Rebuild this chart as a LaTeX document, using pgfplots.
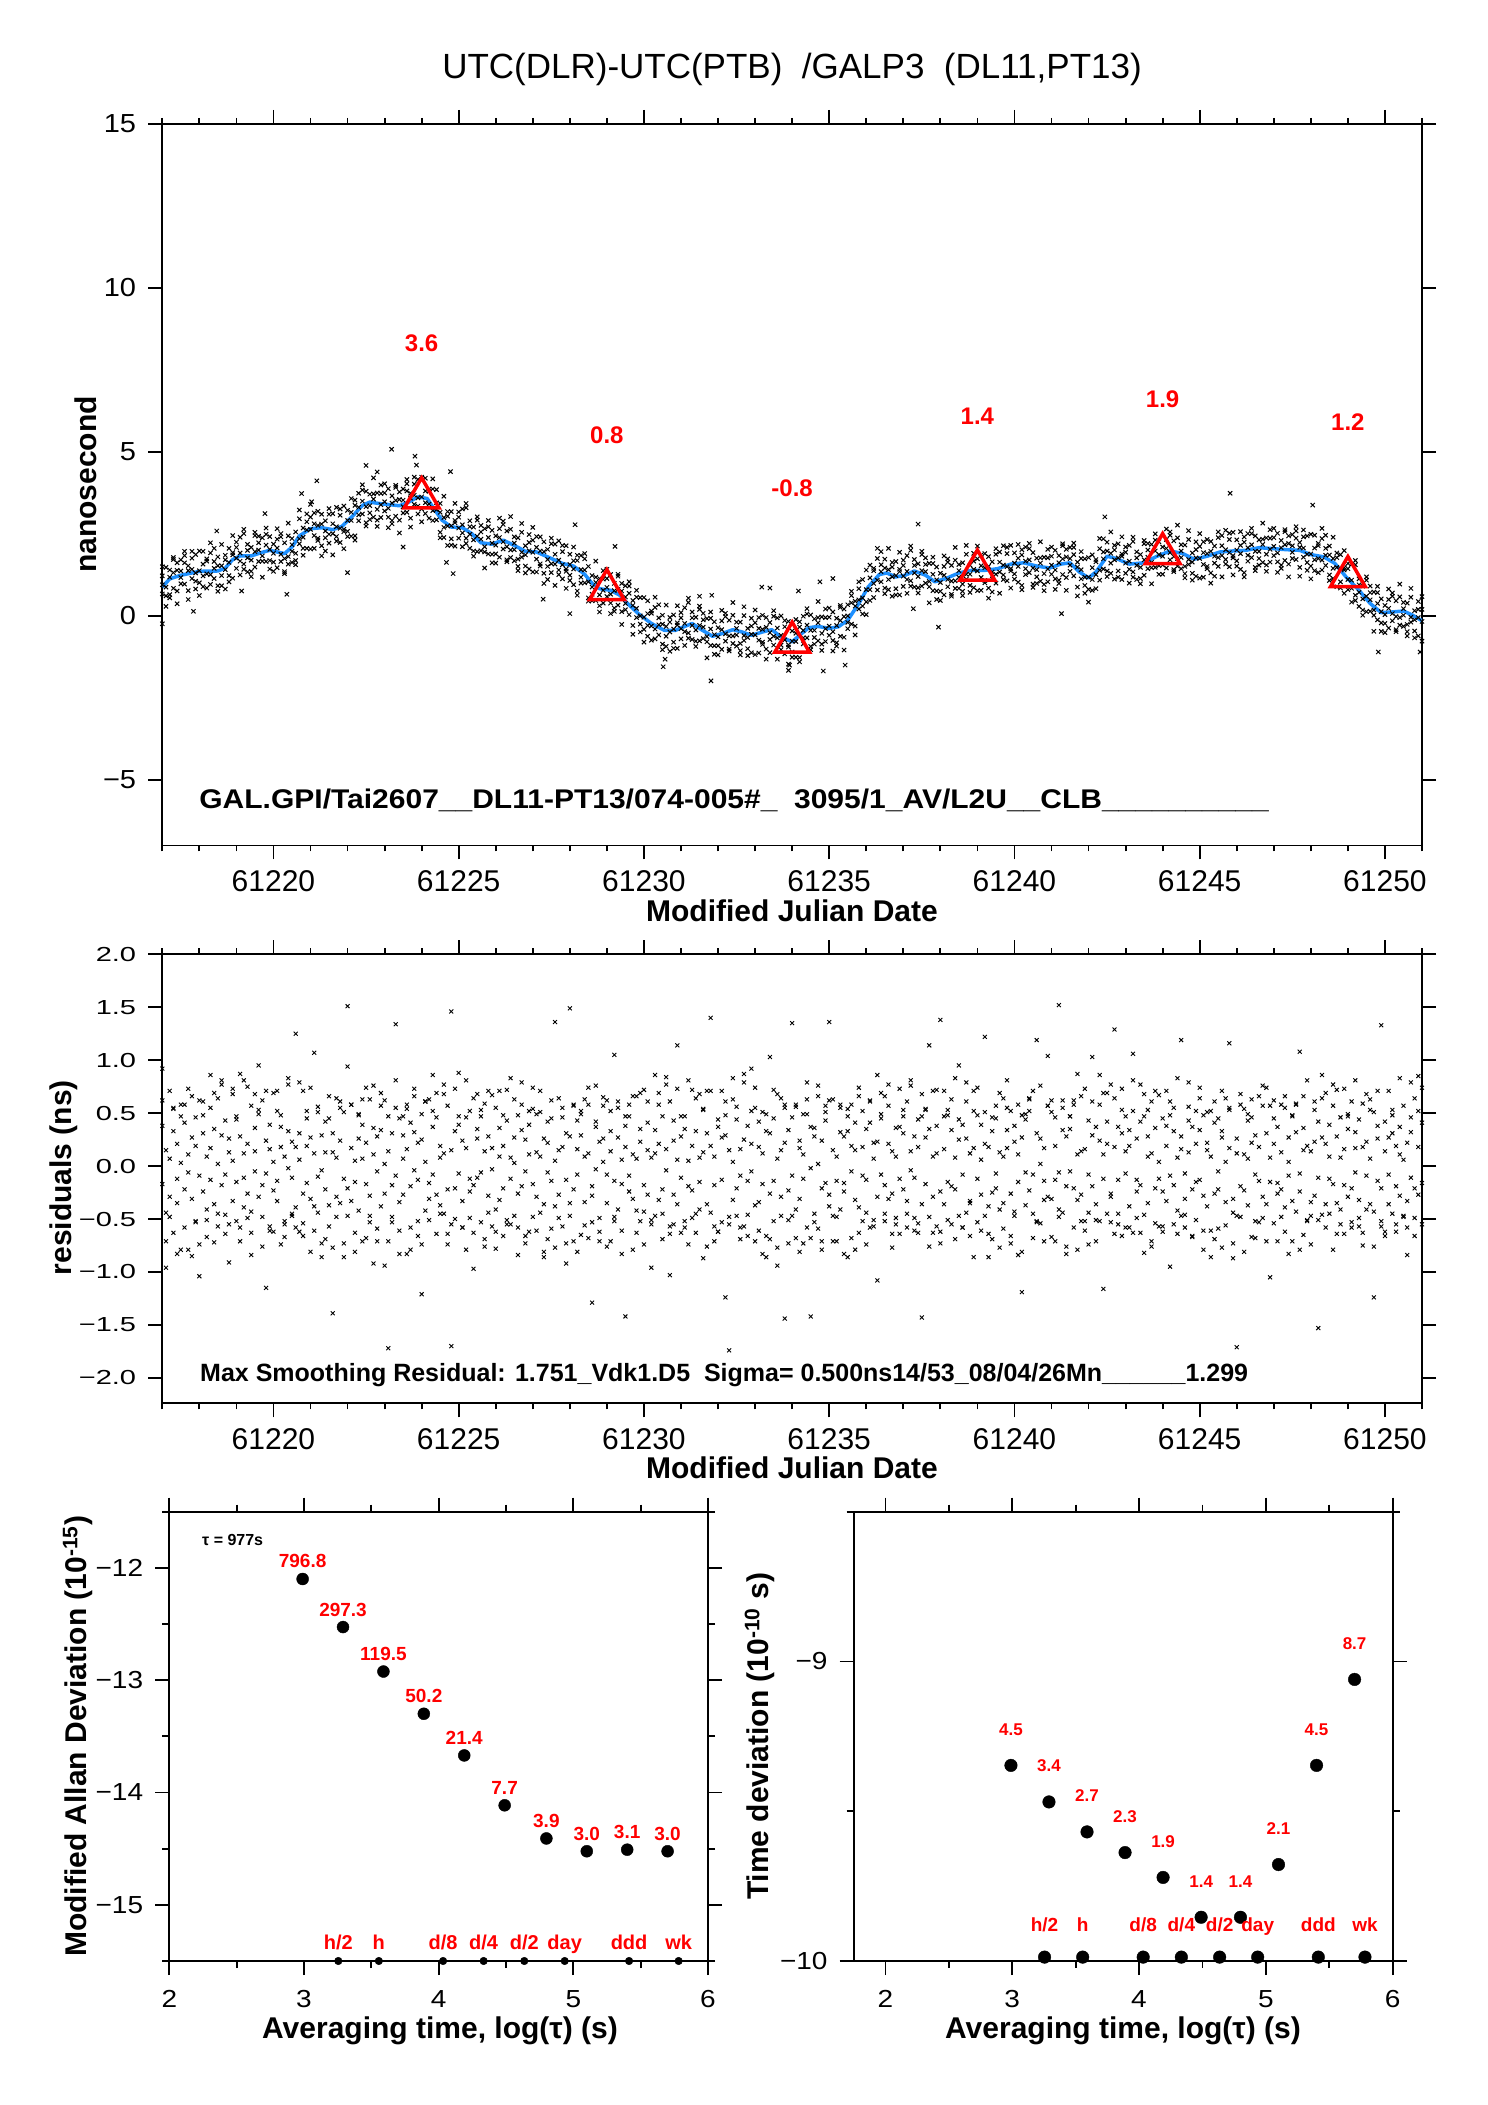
\documentclass[border=0pt]{standalone}
\usepackage{fontspec}
\setmainfont{Liberation Sans}
\usepackage{graphicx}
\usepackage{pgfplots}
\pgfplotsset{compat=1.18}
\usepackage{pgfplotstable}
\definecolor{lineblue}{RGB}{30,144,255}
\definecolor{annred}{RGB}{255,0,0}
\newcommand{\sqz}[2]{\scalebox{1}[#1]{#2}}

% x = days after MJD 61217
\pgfplotstableread{
x a b c d
0.0 0.67 1.22 0.95 1.50
0.1 1.48 0.88 0.61 0.29
0.2 1.18 1.40 0.55 0.65
0.3 0.84 1.78 1.32 1.72
0.4 1.39 0.76 1.62 0.37
0.5 1.17 1.37 0.98 1.71
0.6 1.62 0.97 1.97 1.84
0.7 0.77 1.38 1.53 0.50
0.8 1.42 1.76 1.14 1.97
0.9 1.06 1.31 1.87 0.82
1.0 1.98 1.01 1.38 0.62
1.1 1.22 1.58 0.89 1.97
1.2 1.67 1.28 1.74 0.85
1.3 0.96 1.92 1.26 2.23
1.4 1.45 1.14 1.66 2.06
1.5 1.80 1.53 0.75 0.92
1.6 1.23 0.92 1.53 2.18
1.7 1.71 1.85 1.41 0.82
1.8 1.23 1.63 2.06 1.04
1.9 1.86 1.15 1.93 2.45
2.0 1.76 2.09 1.45 2.25
2.1 2.40 1.67 1.92 1.25
2.2 1.58 2.51 1.42 2.64
2.3 2.00 1.77 2.18 1.34
2.4 1.36 2.09 1.70 1.20
2.5 1.96 1.49 2.45 2.55
2.6 2.23 2.01 1.66 2.43
2.7 1.83 1.67 2.38 1.18
2.8 2.49 2.16 1.66 2.68
2.9 1.69 2.42 2.03 1.43
3.0 2.19 1.64 1.91 1.36
3.1 1.47 2.07 2.34 2.66
3.2 1.88 1.66 2.51 2.41
3.3 2.23 1.29 1.75 1.35
3.4 1.81 2.44 1.58 2.83
3.5 2.17 1.97 2.36 1.63
3.6 1.91 2.56 1.56 1.69
3.7 2.96 2.35 2.20 3.23
3.8 2.40 2.06 2.68 1.85
3.9 2.87 2.62 2.06 3.11
4.0 2.04 3.01 2.64 3.40
4.1 2.81 2.45 3.14 2.06
4.2 2.37 2.76 2.30 3.19
4.3 3.10 2.14 2.80 1.83
4.4 2.59 2.90 2.38 1.98
4.5 2.22 2.49 3.27 3.10
4.6 2.81 3.12 2.51 1.86
4.7 2.42 2.28 2.72 3.31
4.8 3.07 2.67 2.24 3.26
4.9 2.64 3.35 2.57 2.05
5.0 2.91 2.58 3.22 2.42
5.1 2.43 3.16 2.91 3.58
5.2 3.37 2.44 3.53 2.31
5.3 3.08 3.31 2.90 3.74
5.4 3.84 3.11 3.50 4.00
5.5 3.33 3.80 2.84 2.74
5.6 3.14 3.36 3.71 2.94
5.7 3.56 3.72 3.01 4.21
5.8 2.92 3.25 3.75 2.73
5.9 3.73 3.00 3.39 3.99
6.0 3.20 3.75 3.48 4.03
6.1 3.88 3.28 3.01 2.69
6.2 3.44 3.66 2.81 2.91
6.3 3.04 3.98 3.52 3.92
6.4 3.55 2.92 3.78 2.53
6.5 3.33 3.53 3.14 3.87
6.6 3.81 3.16 4.16 4.03
6.7 2.98 3.59 3.74 2.71
6.8 3.68 4.02 3.40 4.23
6.9 3.35 3.60 4.16 3.11
7.0 4.23 3.26 3.63 2.87
7.1 3.45 3.81 3.12 4.20
7.2 3.80 3.41 3.87 2.98
7.3 2.91 3.87 3.21 4.18
7.4 3.24 2.93 3.45 3.85
7.5 3.43 3.16 2.38 2.55
7.6 2.70 2.39 3.00 3.65
7.7 3.04 3.18 2.74 2.15
7.8 2.35 2.75 3.18 2.16
7.9 2.84 2.13 2.91 3.43
8.0 2.68 3.01 2.37 3.17
8.1 3.26 2.53 2.78 2.11
8.2 2.37 3.30 2.21 3.43
8.3 2.72 2.49 2.90 2.06
8.4 1.98 2.71 2.32 1.82
8.5 2.43 1.96 2.92 3.02
8.6 2.56 2.34 1.99 2.76
8.7 2.11 1.95 2.66 1.46
8.8 2.72 2.39 1.89 2.91
8.9 1.88 2.61 2.22 1.62
9.0 2.44 1.89 2.16 1.61
9.1 1.79 2.39 2.66 2.98
9.2 2.26 2.04 2.89 2.79
9.3 2.59 1.65 2.11 1.71
9.4 2.01 2.64 1.78 3.03
9.5 2.22 2.02 2.41 1.68
9.6 1.73 2.38 1.38 1.51
9.7 2.55 1.94 1.79 2.82
9.8 1.86 1.52 2.14 1.31
9.9 2.24 1.99 1.43 2.48
10.0 1.34 2.31 1.94 2.70
10.1 2.09 1.73 2.42 1.34
10.2 1.59 1.98 1.52 2.41
10.3 2.26 1.30 1.96 0.99
10.4 1.72 2.03 1.51 1.11
10.5 1.32 1.59 2.37 2.20
10.6 1.88 2.19 1.58 0.93
10.7 1.40 1.26 1.70 2.29
10.8 1.96 1.56 1.13 2.15
10.9 1.43 2.14 1.36 0.84
11.0 1.57 1.24 1.88 1.08
11.1 0.95 1.68 1.43 2.10
11.2 1.69 0.76 1.85 0.63
11.3 1.18 1.41 1.00 1.84
11.4 1.74 1.01 1.40 1.90
11.5 1.04 1.51 0.55 0.45
11.6 0.66 0.88 1.23 0.46
11.7 1.02 1.18 0.47 1.67
11.8 0.31 0.64 1.14 0.12
11.9 1.12 0.39 0.78 1.38
12.0 0.59 1.14 0.87 1.42
12.1 1.26 0.66 0.39 0.07
12.2 0.77 0.99 0.14 0.24
12.3 0.33 1.27 0.81 1.21
12.4 0.76 0.13 0.99 -0.26
12.5 0.38 0.58 0.19 0.92
12.6 0.69 0.04 1.04 0.91
12.7 -0.29 0.32 0.47 -0.56
12.8 0.23 0.57 -0.05 0.78
12.9 -0.25 0.00 0.56 -0.49
13.0 0.56 -0.41 -0.04 -0.80
13.1 -0.29 0.07 -0.62 0.46
13.2 0.08 -0.31 0.15 -0.74
13.3 -0.70 0.26 -0.40 0.57
13.4 -0.27 -0.58 -0.06 0.34
13.5 0.02 -0.25 -1.03 -0.86
13.6 -0.62 -0.93 -0.32 0.33
13.7 -0.19 -0.05 -0.49 -1.08
13.8 -0.80 -0.40 0.03 -0.99
13.9 -0.28 -0.99 -0.21 0.31
14.0 -0.39 -0.06 -0.70 0.10
14.1 0.25 -0.48 -0.23 -0.90
14.2 -0.52 0.41 -0.68 0.54
14.3 -0.06 -0.29 0.12 -0.72
14.4 -0.77 -0.04 -0.43 -0.93
14.5 -0.29 -0.76 0.20 0.30
14.6 -0.12 -0.34 -0.69 0.08
14.7 -0.63 -0.79 -0.08 -1.28
14.8 -0.07 -0.40 -0.90 0.12
14.9 -0.91 -0.18 -0.57 -1.17
15.0 -0.36 -0.91 -0.64 -1.19
15.1 -1.02 -0.42 -0.15 0.17
15.2 -0.55 -0.77 0.08 -0.02
15.3 -0.13 -1.07 -0.61 -1.01
15.4 -0.61 0.02 -0.84 0.41
15.5 -0.38 -0.58 -0.19 -0.92
15.6 -0.84 -0.19 -1.19 -1.06
15.7 0.01 -0.60 -0.75 0.28
15.8 -0.66 -1.00 -0.38 -1.21
15.9 -0.31 -0.56 -1.12 -0.07
16.0 -1.18 -0.21 -0.58 0.18
16.1 -0.38 -0.74 -0.05 -1.13
16.2 -0.80 -0.41 -0.87 0.02
16.3 -0.05 -1.01 -0.35 -1.32
16.4 -0.51 -0.20 -0.72 -1.12
16.5 -0.89 -0.62 0.16 -0.01
16.6 -0.37 -0.06 -0.67 -1.32
16.7 -0.89 -1.03 -0.59 0.00
16.8 -0.33 -0.73 -1.16 -0.14
16.9 -0.88 -0.17 -0.95 -1.47
17.0 -0.77 -1.10 -0.46 -1.26
17.1 -1.26 -0.53 -0.78 -0.11
17.2 -0.34 -1.27 -0.18 -1.40
17.3 -0.67 -0.44 -0.85 -0.01
17.4 0.06 -0.67 -0.28 0.22
17.5 -0.44 0.03 -0.93 -1.03
17.6 -0.66 -0.44 -0.09 -0.86
17.7 -0.21 -0.05 -0.76 0.44
17.8 -0.86 -0.53 -0.03 -1.05
17.9 -0.05 -0.78 -0.39 0.21
18.0 -0.59 -0.04 -0.31 0.24
18.1 0.12 -0.48 -0.75 -1.07
18.2 -0.29 -0.07 -0.92 -0.82
18.3 -0.62 0.32 -0.14 0.26
18.4 -0.02 -0.65 0.21 -1.04
18.5 -0.20 0.00 -0.39 0.34
18.6 0.40 -0.25 0.75 0.62
18.7 -0.31 0.30 0.45 -0.58
18.8 0.49 0.83 0.21 1.04
18.9 0.30 0.55 1.11 0.06
19.0 1.40 0.43 0.80 0.04
19.1 0.80 1.16 0.47 1.55
19.2 1.38 0.99 1.45 0.56
19.3 0.79 1.75 1.09 2.06
19.4 1.35 1.04 1.56 1.96
19.5 1.73 1.46 0.68 0.85
19.6 1.11 0.80 1.41 2.06
19.7 1.49 1.63 1.19 0.60
19.8 0.83 1.23 1.66 0.64
19.9 1.35 0.64 1.42 1.94
20.0 1.21 1.54 0.90 1.70
20.1 1.84 1.11 1.36 0.69
20.2 1.07 2.00 0.91 2.13
20.3 1.54 1.31 1.72 0.88
20.4 0.86 1.59 1.20 0.70
20.5 1.38 0.91 1.87 1.97
20.6 1.57 1.35 1.00 1.77
20.7 1.05 0.89 1.60 0.40
20.8 1.60 1.27 0.77 1.79
20.9 0.76 1.49 1.10 0.50
21.0 1.30 0.75 1.02 0.47
21.1 0.64 1.24 1.51 1.83
21.2 1.11 0.89 1.74 1.64
21.3 1.54 0.60 1.06 0.66
21.4 1.07 1.70 0.84 2.09
21.5 1.38 1.18 1.57 0.84
21.6 0.97 1.62 0.62 0.75
21.7 1.88 1.27 1.12 2.15
21.8 1.27 0.93 1.55 0.72
21.9 1.67 1.42 0.86 1.91
22.0 0.77 1.74 1.37 2.13
22.1 1.53 1.17 1.86 0.78
22.2 1.08 1.47 1.01 1.90
22.3 1.81 0.85 1.51 0.54
22.4 1.34 1.65 1.13 0.73
22.5 1.00 1.27 2.05 1.88
22.6 1.64 1.95 1.34 0.69
22.7 1.25 1.11 1.55 2.14
22.8 1.90 1.50 1.07 2.09
22.9 1.44 2.15 1.37 0.85
23.0 1.61 1.28 1.92 1.12
23.1 1.03 1.76 1.51 2.18
23.2 1.86 0.93 2.02 0.80
23.3 1.44 1.67 1.26 2.10
23.4 2.05 1.32 1.71 2.21
23.5 1.46 1.93 0.97 0.87
23.6 1.19 1.41 1.76 0.99
23.7 1.61 1.77 1.06 2.26
23.8 0.96 1.29 1.79 0.77
23.9 1.77 1.04 1.43 2.03
24.0 1.27 1.82 1.55 2.10
24.1 2.00 1.40 1.13 0.81
24.2 1.62 1.84 0.99 1.09
24.3 1.26 2.20 1.74 2.14
24.4 1.80 1.17 2.03 0.78
24.5 1.55 1.75 1.36 2.09
24.6 1.87 1.22 2.22 2.09
24.7 0.88 1.49 1.64 0.61
24.8 1.41 1.75 1.13 1.96
24.9 0.93 1.18 1.74 0.69
25.0 1.78 0.81 1.18 0.42
25.1 1.11 1.47 0.78 1.86
25.2 1.65 1.26 1.72 0.83
25.3 1.09 2.05 1.39 2.36
25.4 1.74 1.43 1.95 2.35
25.5 2.25 1.98 1.20 1.37
25.6 1.61 1.30 1.91 2.56
25.7 2.01 2.15 1.71 1.12
25.8 1.37 1.77 2.20 1.18
25.9 1.82 1.11 1.89 2.41
26.0 1.61 1.94 1.30 2.10
26.1 2.15 1.42 1.67 1.00
26.2 1.34 2.27 1.18 2.40
26.3 1.77 1.54 1.95 1.11
26.4 1.14 1.87 1.48 0.98
26.5 1.71 1.24 2.20 2.30
26.6 2.01 1.79 1.44 2.21
26.7 1.63 1.47 2.18 0.98
26.8 2.31 1.98 1.48 2.50
26.9 1.53 2.26 1.87 1.27
27.0 2.10 1.55 1.82 1.27
27.1 1.46 2.06 2.33 2.65
27.2 1.93 1.71 2.56 2.46
27.3 2.29 1.35 1.81 1.41
27.4 1.75 2.38 1.52 2.77
27.5 1.98 1.78 2.17 1.44
27.6 1.51 2.16 1.16 1.29
27.7 2.33 1.72 1.57 2.60
27.8 1.64 1.30 1.92 1.09
27.9 2.02 1.77 1.21 2.26
28.0 1.15 2.12 1.75 2.51
28.1 1.93 1.57 2.26 1.18
28.2 1.51 1.90 1.44 2.33
28.3 2.27 1.31 1.97 1.00
28.4 1.82 2.13 1.61 1.21
28.5 1.51 1.78 2.56 2.39
28.6 2.14 2.45 1.84 1.19
28.7 1.72 1.58 2.02 2.61
28.8 2.33 1.93 1.50 2.52
28.9 1.84 2.55 1.77 1.25
29.0 2.01 1.68 2.32 1.52
29.1 1.42 2.15 1.90 2.57
29.2 2.25 1.32 2.41 1.19
29.3 1.85 2.08 1.67 2.51
29.4 2.51 1.78 2.17 2.67
29.5 1.97 2.44 1.48 1.38
29.6 1.75 1.97 2.32 1.55
29.7 2.18 2.34 1.63 2.83
29.8 1.55 1.88 2.38 1.36
29.9 2.37 1.64 2.03 2.63
30.0 1.84 2.39 2.12 2.67
30.1 2.52 1.92 1.65 1.33
30.2 2.08 2.30 1.45 1.55
30.3 1.69 2.63 2.17 2.57
30.4 2.21 1.58 2.44 1.19
30.5 1.94 2.14 1.75 2.48
30.6 2.37 1.72 2.72 2.59
30.7 1.48 2.09 2.24 1.21
30.8 2.07 2.41 1.79 2.62
30.9 1.63 1.88 2.44 1.39
31.0 2.49 1.52 1.89 1.13
31.1 1.71 2.07 1.38 2.46
31.2 2.14 1.75 2.21 1.32
31.3 1.40 2.36 1.70 2.67
31.4 1.85 1.54 2.06 2.46
31.5 2.13 1.86 1.08 1.25
31.6 1.45 1.14 1.75 2.40
31.7 1.78 1.92 1.48 0.89
31.8 1.04 1.44 1.87 0.85
31.9 1.40 0.69 1.47 1.99
32.0 1.11 1.44 0.80 1.60
32.1 1.57 0.84 1.09 0.42
32.2 0.63 1.56 0.47 1.69
32.3 0.95 0.72 1.13 0.29
32.4 0.18 0.91 0.52 0.02
32.5 0.60 0.13 1.09 1.19
32.6 0.71 0.49 0.14 0.91
32.7 0.18 0.02 0.73 -0.47
32.8 0.71 0.38 -0.12 0.90
32.9 -0.21 0.52 0.13 -0.47
33.0 0.32 -0.23 0.04 -0.51
33.1 -0.37 0.23 0.50 0.82
33.2 0.07 -0.15 0.70 0.60
33.3 0.46 -0.48 -0.02 -0.42
33.4 -0.05 0.58 -0.28 0.97
33.5 0.22 0.02 0.41 -0.32
33.6 -0.26 0.39 -0.61 -0.48
33.7 0.57 -0.04 -0.19 0.84
33.8 -0.12 -0.46 0.16 -0.67
33.9 0.20 -0.05 -0.61 0.44
34.0 -0.77 0.20 -0.17 0.59
}\topdata

\pgfplotstableread{
x y
0.00 -0.24
0.84 0.14
1.47 2.59
2.14 0.76
2.77 3.12
3.36 0.66
3.76 3.73
4.03 3.48
4.17 4.12
5.00 1.32
5.50 4.59
5.80 4.39
6.19 5.08
6.50 2.10
6.82 4.87
6.86 4.60
7.78 4.40
7.67 1.63
7.85 1.29
10.28 0.51
11.00 0.07
11.14 2.78
12.22 2.12
13.52 -1.55
13.57 -1.32
14.81 -1.98
14.50 0.60
14.83 0.63
16.18 0.88
16.40 0.85
16.90 -1.66
16.93 -1.50
17.17 0.76
17.84 -1.68
18.10 1.14
17.75 1.04
18.43 -1.50
20.40 2.80
20.27 0.22
20.95 -0.34
24.27 0.07
25.44 3.02
28.82 3.74
31.05 3.38
32.82 -1.10
33.95 -1.10
}\topout

\pgfplotstableread{
x a b c d
0.0 0.38 -0.17 0.92 0.62
0.1 -0.44 0.15 -0.96 -0.71
0.2 0.07 0.71 -0.29 -0.48
0.3 -0.63 0.33 0.54 0.55
0.4 0.21 -0.35 -0.12 -0.83
0.5 0.58 -0.79 0.03 0.47
0.6 -0.22 0.41 -0.58 0.58
0.7 0.11 -0.06 0.73 -0.79
0.8 -0.85 0.27 -0.31 0.66
0.9 0.46 -0.53 0.19 -0.52
1.0 -0.09 0.62 -1.04 -0.74
1.1 0.31 -0.24 0.48 0.61
1.2 -0.67 0.09 -0.41 -0.51
1.3 0.17 0.55 -0.13 0.86
1.4 -0.36 -0.72 0.35 0.69
1.5 0.64 0.02 -0.57 -0.45
1.6 -0.18 0.29 0.81 0.77
1.7 0.43 -0.46 -0.08 -0.64
1.8 -0.91 0.13 0.26 -0.55
1.9 0.05 0.68 -0.33 0.73
2.0 -0.52 -0.15 0.44 0.47
2.1 0.28 0.87 -0.71 -0.58
2.2 -0.11 -0.39 0.12 0.81
2.3 0.75 0.21 -0.26 -0.49
2.4 -0.43 -0.84 0.57 -0.63
2.5 0.14 0.36 -0.05 0.68
2.6 -0.29 0.49 0.95 0.53
2.7 0.62 -0.18 -0.48 -0.76
2.8 -0.07 0.24 -1.15 0.71
2.9 0.39 -0.61 0.16 -0.57
3.0 -0.23 0.04 0.69 -0.62
3.1 0.52 -0.33 -0.14 0.71
3.2 -0.74 0.18 0.37 0.48
3.3 0.09 -0.52 -0.67 -0.55
3.4 0.33 0.77 -0.02 0.83
3.5 -0.45 -0.11 0.23 -0.47
3.6 0.18 1.25 -0.39 -0.58
3.7 -0.62 0.31 0.06 0.79
3.8 0.71 -0.26 -0.54 -0.66
3.9 -0.16 0.45 0.19 0.52
4.0 0.27 -0.81 -0.31 0.74
4.1 -0.38 0.12 1.07 -0.61
4.2 0.56 -0.44 -0.10 0.51
4.3 -0.04 0.29 -0.73 -0.86
4.4 0.42 -0.22 0.13 -0.69
4.5 -0.57 0.66 -0.37 0.45
4.6 0.13 -1.39 0.31 -0.77
4.7 -0.29 0.08 -0.48 0.64
4.8 0.61 -0.35 0.24 0.55
4.9 -0.12 0.51 -0.86 -0.73
5.0 0.94 1.51 -0.21 -0.47
5.1 -0.33 0.17 0.58 0.58
5.2 0.05 -0.63 -0.15 -0.81
5.3 0.48 0.26 -0.42 0.49
5.4 -0.71 0.39 0.07 0.63
5.5 0.22 -0.17 0.74 -0.68
5.6 -0.47 0.63 -0.28 -0.53
5.7 0.36 -0.92 0.11 0.76
5.8 -0.05 0.28 -0.59 -0.71
5.9 0.69 -0.38 0.34 0.57
6.0 -0.26 0.02 -0.94 0.62
6.1 0.14 -1.72 0.47 -0.71
6.2 -0.53 0.31 -0.18 -0.48
6.3 0.81 -0.09 1.34 0.55
6.4 -0.34 0.45 -0.61 -0.83
6.5 0.07 -0.27 0.29 0.47
6.6 0.54 0.16 -0.83 0.58
6.7 -0.19 -0.58 0.41 -0.79
6.8 0.32 0.73 -0.04 0.66
6.9 -0.66 -0.13 0.22 -0.52
7.0 0.25 0.49 -1.21 -0.74
7.1 -0.42 0.04 0.61 0.61
7.2 0.63 -0.31 -0.16 -0.51
7.3 -0.08 0.37 0.52 0.86
7.4 0.46 -0.64 -0.27 0.69
7.5 -0.37 0.19 0.08 -0.45
7.6 0.12 -0.45 0.68 0.77
7.7 -0.74 0.57 -0.22 -0.64
7.8 1.46 -1.70 0.15 -0.55
7.9 -0.21 0.33 -0.50 0.73
8.0 0.39 -0.07 0.88 0.47
8.1 -0.58 0.24 -0.33 -0.58
8.2 0.17 -0.79 0.46 0.81
8.3 -0.24 0.52 -0.12 -0.49
8.4 0.64 -0.18 -0.97 -0.63
8.5 -0.11 0.35 0.26 0.68
8.6 0.47 -0.53 -0.06 0.53
8.7 -0.69 0.14 0.59 -0.76
8.8 0.28 -0.28 -0.44 0.71
8.9 -0.03 0.67 0.17 -0.57
9.0 0.55 -0.41 -0.78 -0.62
9.1 -0.32 0.09 0.36 0.71
9.2 0.19 -0.66 -0.21 0.48
9.3 -0.51 0.43 0.72 -0.55
9.4 0.08 -0.12 -0.55 0.83
9.5 0.63 0.27 0.03 -0.47
9.6 -0.26 -0.84 0.48 -0.58
9.7 0.34 0.58 -0.19 0.79
9.8 -0.73 -0.05 0.25 -0.66
9.9 0.11 0.39 -0.62 0.52
10.0 -0.17 -0.48 0.54 0.74
10.1 0.49 0.13 -0.29 -0.61
10.2 -0.44 0.71 0.09 0.51
10.3 0.26 -0.36 -0.81 -0.86
10.4 -0.06 0.22 0.42 -0.69
10.5 0.62 -0.59 -0.14 0.45
10.6 -0.38 0.05 1.36 -0.77
10.7 0.15 -0.27 -0.49 0.64
10.8 -0.57 0.46 0.18 0.55
10.9 0.31 -0.13 -0.92 -0.73
11.0 1.49 0.28 -0.35 -0.47
11.1 -0.22 -0.71 0.57 0.58
11.2 0.43 0.16 -0.08 -0.81
11.3 -0.65 0.52 0.29 0.49
11.4 0.09 -0.34 -0.56 0.63
11.5 0.58 0.74 0.12 -0.68
11.6 -0.28 -0.19 -1.29 -0.53
11.7 0.37 0.42 -0.03 0.76
11.8 -0.49 -0.62 0.23 -0.71
11.9 0.04 0.26 0.65 0.57
12.0 -0.35 -0.08 -0.76 0.62
12.1 0.52 0.33 0.14 -0.71
12.2 -0.14 -0.52 1.05 -0.48
12.3 0.27 0.61 -0.41 0.55
12.4 -0.61 -0.17 0.06 -0.83
12.5 0.18 -1.42 0.38 0.47
12.6 -0.09 0.47 -0.24 0.58
12.7 0.66 -0.31 0.11 -0.79
12.8 -0.42 0.07 -0.63 0.66
12.9 0.23 0.69 0.35 -0.52
13.0 -0.18 -0.43 0.72 -0.74
13.1 0.41 0.15 -0.27 0.61
13.2 -0.55 -0.96 0.08 -0.51
13.3 0.12 0.34 -0.47 0.86
13.4 -0.32 0.58 0.21 0.69
13.5 0.47 -0.22 -0.69 -0.45
13.6 -0.04 0.84 0.16 0.77
13.7 0.61 -0.57 -1.03 -0.64
13.8 -0.27 0.24 0.43 -0.55
13.9 0.06 1.14 -0.36 0.73
14.0 -0.63 -0.11 0.28 0.47
14.1 0.35 0.47 -0.52 -0.58
14.2 -0.19 -0.74 0.05 0.81
14.3 0.72 0.19 -0.23 -0.49
14.4 -0.45 0.33 0.64 -0.63
14.5 0.08 -0.41 -0.15 0.68
14.6 0.54 0.13 -0.87 0.53
14.7 -0.36 0.71 0.31 -0.76
14.8 0.19 1.40 -0.44 0.71
14.9 -0.71 -0.18 0.09 -0.57
15.0 0.44 0.37 -0.62 -0.62
15.1 -0.13 -0.53 0.27 0.71
15.2 0.29 0.61 -1.24 0.48
15.3 -0.48 -1.74 0.15 -0.55
15.4 0.63 0.04 -0.32 0.83
15.5 -0.21 0.44 0.56 -0.47
15.6 0.16 -0.69 -0.09 -0.58
15.7 -0.57 0.25 0.87 0.79
15.8 0.38 -0.14 -0.46 -0.66
15.9 -0.05 0.92 0.21 0.52
16.0 0.55 -0.37 -0.71 0.74
16.1 -0.34 0.18 0.42 -0.61
16.2 0.12 -0.83 -0.17 0.51
16.3 -0.66 0.49 0.33 -0.86
16.4 0.31 -0.26 1.03 -0.69
16.5 -0.14 0.72 -0.52 0.45
16.6 0.68 0.07 -0.94 -0.77
16.7 -0.29 -0.47 0.15 0.64
16.8 0.22 -1.44 0.58 0.55
16.9 -0.51 0.34 -0.23 -0.73
17.0 1.35 -0.09 0.46 -0.47
17.1 -0.41 0.56 -0.68 0.58
17.2 0.17 -0.31 0.24 -0.81
17.3 -0.73 0.11 -0.12 0.49
17.4 0.49 -0.58 0.79 0.63
17.5 -0.02 -1.42 0.37 -0.68
17.6 0.36 0.28 -0.45 -0.53
17.7 -0.59 0.66 0.02 0.76
17.8 0.24 -0.21 -0.79 -0.71
17.9 -0.16 0.43 0.51 0.57
18.0 1.36 -0.38 -0.27 0.62
18.1 -0.47 0.15 0.63 -0.71
18.2 0.09 -0.71 -0.14 -0.48
18.3 0.58 0.32 -0.41 0.55
18.4 -0.24 -0.16 0.28 -0.83
18.5 0.33 0.54 -0.86 0.47
18.6 -0.68 -0.05 0.19 0.58
18.7 0.15 0.41 -0.32 -0.79
18.8 -0.39 -0.63 0.74 0.66
18.9 0.52 0.18 -0.09 -0.52
19.0 -0.13 -0.44 0.35 -0.74
19.1 0.41 0.62 -0.58 0.61
19.2 -0.57 0.07 0.22 -0.51
19.3 0.23 -0.29 -1.08 0.86
19.4 -0.08 0.49 0.45 0.69
19.5 0.66 -0.52 -0.18 -0.45
19.6 -0.31 0.21 0.57 0.77
19.7 0.14 -0.77 -0.26 -0.64
19.8 -0.49 0.36 0.09 -0.55
19.9 0.37 -0.12 -0.64 0.73
20.0 -0.22 0.53 0.31 0.47
20.1 0.61 -0.33 -0.45 -0.58
20.2 -0.04 0.14 0.76 0.81
20.3 0.28 -0.61 -0.11 -0.49
20.4 -0.54 0.44 0.18 -0.63
20.5 0.47 -1.43 -0.36 0.68
20.6 -0.17 0.27 0.54 0.53
20.7 0.35 -0.48 1.14 -0.76
20.8 -0.63 0.09 -0.29 0.71
20.9 0.12 0.72 0.38 -0.57
21.0 1.38 -0.24 -0.73 -0.62
21.1 -0.36 0.47 0.16 0.71
21.2 0.53 -0.15 -0.51 0.48
21.3 -0.19 0.34 0.63 -0.55
21.4 0.08 -0.69 -0.22 0.83
21.5 0.44 0.25 0.95 -0.47
21.6 -0.58 -0.08 0.39 -0.58
21.7 0.26 0.61 -0.44 0.79
21.8 -0.33 -0.35 0.12 -0.66
21.9 0.71 0.17 -0.86 0.52
22.0 -0.12 -0.53 0.48 0.74
22.1 0.39 0.06 -0.27 -0.61
22.2 -0.47 1.22 0.21 0.51
22.3 0.18 -0.38 -0.64 -0.86
22.4 -0.25 0.46 0.33 -0.69
22.5 0.57 -0.21 -0.07 0.45
22.6 -0.41 0.13 0.69 -0.77
22.7 0.09 -0.59 -0.35 0.64
22.8 0.34 0.81 0.17 0.55
22.9 -0.66 -0.26 0.52 -0.73
23.0 0.23 0.38 -0.43 -0.47
23.1 -0.15 -0.84 0.11 0.58
23.2 0.48 0.27 -1.19 -0.81
23.3 -0.37 -0.06 0.44 0.49
23.4 0.64 0.52 -0.23 0.63
23.5 -0.08 -0.45 0.71 -0.68
23.6 0.31 1.19 -0.52 -0.53
23.7 -0.54 0.02 0.26 0.76
23.8 0.17 -0.32 -0.14 -0.71
23.9 -0.29 0.57 1.04 0.57
24.0 0.51 -0.67 -0.31 0.62
24.1 -0.13 0.19 0.46 -0.71
24.2 1.52 -0.41 -0.06 -0.48
24.3 -0.44 0.34 0.62 0.55
24.4 0.28 -0.76 -0.19 -0.83
24.5 -0.05 0.47 0.35 0.47
24.6 0.62 -0.21 -0.58 0.58
24.7 -0.32 0.11 0.87 -0.79
24.8 0.14 -0.52 -0.27 0.66
24.9 -0.61 0.73 0.16 -0.52
25.0 0.43 -0.08 -0.44 -0.74
25.1 -0.19 1.03 0.29 0.61
25.2 0.37 -0.36 -0.71 -0.51
25.3 -0.52 0.24 0.58 0.86
25.4 0.11 -1.16 -0.12 0.69
25.5 0.69 0.42 0.21 -0.45
25.6 -0.26 -0.29 -0.53 0.77
25.7 0.18 0.64 1.29 -0.64
25.8 -0.45 -0.13 0.37 -0.55
25.9 0.53 0.31 -0.66 0.73
26.0 -0.07 -0.58 0.14 0.47
26.1 0.34 0.19 -0.38 -0.58
26.2 -0.63 0.52 1.06 0.81
26.3 0.26 -0.24 -0.13 -0.49
26.4 -0.18 0.77 0.42 -0.63
26.5 0.47 -0.46 -0.82 0.68
26.6 -0.35 0.09 0.28 0.53
26.7 0.12 -0.71 0.61 -0.76
26.8 -0.54 0.36 -0.21 0.71
26.9 0.67 -0.12 0.04 -0.57
27.0 -0.24 0.45 -0.57 -0.62
27.1 0.38 -0.33 0.19 0.71
27.2 -0.09 0.61 -0.95 0.48
27.3 0.55 -0.18 0.33 -0.55
27.4 -0.42 -0.64 0.08 0.83
27.5 0.16 0.28 1.19 -0.47
27.6 -0.31 -0.07 -0.46 -0.58
27.7 0.43 0.56 0.13 0.79
27.8 -0.67 -0.22 0.37 -0.66
27.9 0.21 -0.51 -0.15 0.52
28.0 -0.13 0.34 0.64 0.74
28.1 0.48 -0.79 -0.28 -0.61
28.2 -0.38 0.15 0.22 0.51
28.3 0.09 0.52 -0.61 -0.86
28.4 0.61 -0.26 0.41 -0.69
28.5 -0.22 -0.59 -0.05 0.45
28.6 0.33 0.71 0.27 -0.77
28.7 -0.56 0.04 -0.34 0.64
28.8 0.17 1.16 0.53 0.55
28.9 -0.44 -0.31 -0.87 -0.73
29.0 -1.71 0.26 0.12 -0.47
29.1 -0.19 -0.48 0.68 0.58
29.2 0.54 0.11 -0.23 -0.81
29.3 -0.37 0.43 0.07 0.49
29.4 0.22 -0.67 0.46 0.63
29.5 -0.08 0.29 -0.52 -0.68
29.6 0.66 -0.14 0.18 -0.53
29.7 -0.49 0.57 -0.29 0.76
29.8 0.31 -0.36 0.74 -0.71
29.9 -0.15 0.08 -1.05 0.57
30.0 0.45 -0.54 0.21 0.62
30.1 -0.26 0.37 -0.16 -0.71
30.2 0.13 -0.22 0.58 -0.48
30.3 -0.62 0.66 -0.39 0.55
30.4 0.27 -0.09 0.04 -0.83
30.5 -0.33 0.48 -0.71 0.47
30.6 0.59 -0.43 0.32 0.58
30.7 -0.07 1.08 -0.24 -0.79
30.8 0.36 -0.65 0.15 0.66
30.9 -0.51 0.19 0.81 -0.52
31.0 0.14 -0.34 -0.47 -0.74
31.1 -0.28 0.53 0.23 0.61
31.2 0.42 -1.53 -0.11 -0.51
31.3 -0.46 0.27 0.64 0.86
31.4 0.21 -0.58 -0.36 0.69
31.5 -0.12 0.39 0.09 -0.45
31.6 0.57 -0.17 -0.79 0.77
31.7 -0.35 0.72 0.28 -0.64
31.8 0.08 -0.41 0.46 -0.55
31.9 -0.64 0.16 -0.18 0.73
32.0 0.49 -0.29 0.35 0.47
32.1 -0.21 0.61 -0.53 -0.58
32.2 0.32 -0.06 0.17 0.81
32.3 -0.57 0.44 -0.32 -0.49
32.4 0.18 -0.75 0.59 -0.63
32.5 -0.09 0.23 -0.41 0.68
32.6 0.63 -0.36 0.07 0.53
32.7 -0.43 0.51 -1.24 -0.76
32.8 0.26 -0.14 0.38 0.71
32.9 1.33 -0.52 -0.21 -0.57
33.0 0.14 0.42 -0.66 -0.62
33.1 -0.36 -0.08 0.27 0.71
33.2 0.53 0.31 -0.45 0.48
33.3 -0.19 -0.62 0.19 -0.55
33.4 0.37 0.11 -0.28 0.83
33.5 -0.48 0.57 0.06 -0.47
33.6 0.22 -0.33 -0.84 -0.58
33.7 -0.11 0.46 0.32 0.79
33.8 0.64 -0.21 -0.49 -0.66
33.9 -0.27 0.18 0.85 0.52
34.0 0.41 -0.55 -0.16 0.74
}\resdata

\pgfplotsset{
  myaxis/.style={
    scale only axis,
    axis line style={line width=1.8pt},
    tick style={line width=1.8pt, black},
    major tick length=14pt, minor tick length=6pt,
    tick align=outside, tick pos=both,
    scaled ticks=false,
    xticklabel style={anchor=base, inner sep=0pt, yshift=-32pt},
    yticklabel style={anchor=east, inner sep=0pt, xshift=-12pt},
  },
  mjdx/.style={
    xmin=0, xmax=34,
    xtick={3,8,13,18,23,28,33},
    xticklabels={61220,61225,61230,61235,61240,61245,61250},
    minor xtick={0,1,...,34},
    xticklabel style={font=\fontsize{30}{30}\selectfont},
  },
  xmk/.style={only marks, mark=x, mark size=3.0pt, black, mark options={line width=1.0pt}},
  rmk/.style={only marks, mark=x, mark size=2.8pt, black, mark options={line width=0.9pt}},
}

\begin{document}
\begin{tikzpicture}[x=1pt,y=1pt]
\useasboundingbox (0pt,0pt) rectangle (1488pt,2105pt);

% ---------------- top panel ----------------
\begin{axis}[myaxis, mjdx,
  anchor=south west, at={(162.3pt,1259.5pt)}, width=1259.7pt, height=721.5pt,
  ymin=-7, ymax=15,
  ytick={-5,0,5,10,15},
  yticklabels={\sqz{0.9}{−5},\sqz{0.9}{0},\sqz{0.9}{5},\sqz{0.9}{10},\sqz{0.9}{15}},
  yticklabel style={font=\fontsize{29}{29}\selectfont},
]
\addplot[xmk] table[x=x,y=a]{\topdata};
\addplot[xmk] table[x=x,y=b]{\topdata};
\addplot[xmk] table[x=x,y=c]{\topdata};
\addplot[xmk] table[x=x,y=d]{\topdata};
\addplot[xmk] table[x=x,y=y]{\topout};
\addplot[lineblue, line width=3.5pt, line join=round] coordinates {
(0.0,0.88) (0.2,1.13) (0.5,1.24) (0.8,1.31) (1.0,1.36) (1.5,1.37) (1.7,1.46) (1.9,1.72) (2.1,1.83) (2.4,1.83) (2.7,1.94) (2.9,2.00) (3.1,1.95) (3.3,1.90) (3.5,2.10) (3.7,2.44) (4.0,2.66) (4.3,2.69) (4.6,2.63) (4.85,2.73) (5.15,3.06) (5.4,3.37) (5.6,3.47) (5.9,3.42) (6.4,3.36) (6.65,3.47) (6.9,3.63) (7.15,3.58) (7.3,3.32) (7.55,2.92) (7.8,2.71) (8.1,2.69) (8.35,2.51) (8.6,2.23) (8.9,2.19) (9.2,2.31) (9.5,2.15) (9.8,1.97) (10.1,1.95) (10.4,1.80) (10.8,1.60) (11.1,1.52) (11.4,1.27) (11.6,0.99) (11.8,0.83) (12.1,0.78) (12.35,0.63) (12.6,0.33) (12.85,0.07) (13.2,-0.23) (13.55,-0.44) (13.85,-0.44) (14.1,-0.32) (14.3,-0.23) (14.55,-0.42) (14.85,-0.62) (15.1,-0.54) (15.4,-0.42) (15.65,-0.49) (15.9,-0.59) (16.2,-0.49) (16.45,-0.42) (16.7,-0.64) (17.0,-0.79) (17.2,-0.59) (17.45,-0.36) (17.7,-0.32) (18.0,-0.38) (18.25,-0.33) (18.5,-0.13) (18.8,0.38) (19.05,0.88) (19.35,1.26) (19.55,1.31) (19.8,1.19) (20.05,1.24) (20.3,1.37) (20.6,1.24) (20.85,1.04) (21.15,1.14) (21.5,1.31) (21.85,1.39) (22.2,1.39) (22.55,1.44) (22.9,1.58) (23.25,1.62) (23.6,1.52) (23.95,1.46) (24.25,1.58) (24.5,1.62) (24.75,1.34) (25.0,1.16) (25.2,1.34) (25.5,1.82) (25.75,1.75) (26.1,1.58) (26.5,1.62) (26.85,1.82) (27.2,1.98) (27.55,1.90) (27.85,1.73) (28.2,1.82) (28.55,1.95) (28.9,1.98) (29.25,2.00) (29.6,2.08) (30.0,2.05) (30.35,2.02) (30.7,2.00) (31.0,1.87) (31.35,1.80) (31.65,1.60) (31.95,1.19) (32.3,0.78) (32.6,0.38) (32.9,0.10) (33.2,0.12) (33.5,0.15) (33.75,0.02) (34.0,-0.15)
};
\addplot[only marks, mark=triangle, mark size=20pt, annred,
  mark options={line width=3.5pt, line join=miter, fill=none},
  nodes near coords, point meta=explicit symbolic,
  nodes near coords align={center},
  every node near coord/.append style={anchor=base, inner sep=0pt, yshift=146pt,
    font=\bfseries\fontsize{24}{24}\selectfont, text=annred}]
  table[x=x,y=y,meta=lab]{
x y lab
7 3.6 3.6
12 0.8 0.8
17 -0.8 -0.8
22 1.4 1.4
27 1.9 1.9
32 1.2 1.2
};
\end{axis}

% ---------------- middle panel ----------------
\begin{axis}[myaxis, mjdx,
  anchor=south west, at={(162.3pt,701.7pt)}, width=1259.7pt, height=449pt,
  ymin=-2.24, ymax=2.0,
  ytick={-2,-1.5,-1,-0.5,0,0.5,1,1.5,2},
  yticklabels={\sqz{0.7}{−2.0},\sqz{0.7}{−1.5},\sqz{0.7}{−1.0},\sqz{0.7}{−0.5},\sqz{0.7}{0.0},\sqz{0.7}{0.5},\sqz{0.7}{1.0},\sqz{0.7}{1.5},\sqz{0.7}{2.0}},
  yticklabel style={font=\fontsize{29}{29}\selectfont},
]
\addplot[rmk] table[x=x,y=a]{\resdata};
\addplot[rmk] table[x=x,y=b]{\resdata};
\addplot[rmk] table[x=x,y=c]{\resdata};
\addplot[rmk] table[x=x,y=d]{\resdata};
\end{axis}

% ---------------- bottom left panel ----------------
\begin{axis}[myaxis,
  anchor=south west, at={(169.3pt,144pt)}, width=538.7pt, height=449.3pt,
  xmin=2, xmax=6, ymin=-15.5, ymax=-11.5,
  minor tick length=7pt,
  xtick={2,3,4,5,6}, xticklabels={\sqz{0.88}{2},\sqz{0.88}{3},\sqz{0.88}{4},\sqz{0.88}{5},\sqz{0.88}{6}},
  minor xtick={2.5,3.5,4.5,5.5},
  ytick={-15,-14,-13,-12}, yticklabels={\sqz{0.88}{−15},\sqz{0.88}{−14},\sqz{0.88}{−13},\sqz{0.88}{−12}},
  minor ytick={-15.5,-14.5,-13.5,-12.5,-11.5},
  tick label style={font=\fontsize{28}{28}\selectfont},
  clip=false,
]
\addplot[only marks, mark=*, mark size=6pt, black,
  nodes near coords, point meta=explicit symbolic,
  nodes near coords align={center},
  every node near coord/.append style={anchor=base, inner sep=0pt, yshift=11pt,
    font=\bfseries\fontsize{19}{19}\selectfont, text=annred}]
  table[x=x,y=y,meta=lab]{
x y lab
2.99 -12.099 796.8
3.29 -12.527 297.3
3.59 -12.923 119.5
3.89 -13.299 50.2
4.19 -13.670 21.4
4.49 -14.114 7.7
4.80 -14.409 3.9
5.10 -14.523 3.0
5.40 -14.509 3.1
5.70 -14.523 3.0
};
\addplot[only marks, mark=*, mark size=3.8pt, black,
  nodes near coords, point meta=explicit symbolic,
  nodes near coords align={center},
  every node near coord/.append style={anchor=base, inner sep=0pt, yshift=11pt,
    font=\bfseries\fontsize{20}{20}\selectfont, text=annred}]
  table[x=x,y=y,meta=lab]{
x y lab
3.255 -15.5 h/2
3.556 -15.5 h
4.033 -15.5 d/8
4.334 -15.5 d/4
4.636 -15.5 d/2
4.936 -15.5 day
5.414 -15.5 ddd
5.782 -15.5 wk
};
\end{axis}

% ---------------- bottom right panel ----------------
\begin{axis}[myaxis,
  anchor=south west, at={(853.7pt,144pt)}, width=538.9pt, height=449.3pt,
  xmin=1.75, xmax=6, ymin=-10, ymax=-8.5,
  minor tick length=7pt,
  xtick={2,3,4,5,6}, xticklabels={\sqz{0.88}{2},\sqz{0.88}{3},\sqz{0.88}{4},\sqz{0.88}{5},\sqz{0.88}{6}},
  minor xtick={2.5,3.5,4.5,5.5},
  ytick={-10,-9}, yticklabels={\sqz{0.88}{−10},\sqz{0.88}{−9}},
  minor ytick={-9.5,-8.5},
  tick label style={font=\fontsize{28}{28}\selectfont},
  clip=false,
]
\addplot[only marks, mark=*, mark size=6.3pt, black,
  nodes near coords, point meta=explicit symbolic,
  nodes near coords align={center},
  every node near coord/.append style={anchor=base, inner sep=0pt, yshift=30pt,
    font=\bfseries\fontsize{17}{17}\selectfont, text=annred}]
  table[x=x,y=y,meta=lab]{
x y lab
2.99 -9.347 4.5
3.29 -9.469 3.4
3.59 -9.569 2.7
3.89 -9.638 2.3
4.19 -9.721 1.9
4.49 -9.854 1.4
4.80 -9.854 1.4
5.10 -9.678 2.1
5.40 -9.347 4.5
5.70 -9.060 8.7
};
\addplot[only marks, mark=*, mark size=6.3pt, black,
  nodes near coords, point meta=explicit symbolic,
  nodes near coords align={center},
  every node near coord/.append style={anchor=base, inner sep=0pt, yshift=26pt,
    font=\bfseries\fontsize{19}{19}\selectfont, text=annred}]
  table[x=x,y=y,meta=lab]{
x y lab
3.255 -9.987 h/2
3.556 -9.987 h
4.033 -9.987 d/8
4.334 -9.987 d/4
4.636 -9.987 d/2
4.936 -9.987 day
5.414 -9.987 ddd
5.782 -9.987 wk
};
\end{axis}

% ---------------- titles and labels ----------------
\node[anchor=base, inner sep=0pt, font=\fontsize{35}{35}\selectfont] at (792pt,2026.5pt)
  {UTC(DLR)-UTC(PTB)\ \ /GALP3\ \ (DL11,PT13)};
\node[anchor=base west, inner sep=0pt, font=\bfseries\fontsize{30}{30}\selectfont] at (199.2pt,1296pt)
  {\sqz{0.9}{GAL.GPI/Tai2607\_\_DL11-PT13/074-005\#\_\ \ 3095/1\_AV/L2U\_\_CLB\_\_\_\_\_\_\_\_\_\_}};
\node[anchor=base west, inner sep=0pt, font=\bfseries\fontsize{25}{25}\selectfont] at (200pt,723.3pt)
  {Max Smoothing Residual: 1.751\_Vdk1.D5\ \ Sigma= 0.500ns14/53\_08/04/26Mn\_\_\_\_\_\_1.299};
\node[anchor=base west, inner sep=0pt, font=\bfseries\fontsize{16}{16}\selectfont] at (202pt,559.3pt) {τ = 977s};
\node[anchor=base, inner sep=0pt, font=\bfseries\fontsize{30}{30}\selectfont] at (792pt,1183.3pt) {Modified Julian Date};
\node[anchor=base, inner sep=0pt, font=\bfseries\fontsize{30}{30}\selectfont] at (792pt,626.7pt) {Modified Julian Date};
\node[anchor=base, inner sep=0pt, font=\bfseries\fontsize{30}{30}\selectfont] at (440pt,66.7pt) {Averaging time, log(τ) (s)};
\node[anchor=base, inner sep=0pt, font=\bfseries\fontsize{30}{30}\selectfont] at (1123pt,66.7pt) {Averaging time, log(τ) (s)};
\node[rotate=90, anchor=base, inner sep=0pt, font=\bfseries\fontsize{30}{30}\selectfont] at (96pt,1620.5pt) {nanosecond};
\node[rotate=90, anchor=base, inner sep=0pt, font=\bfseries\fontsize{30}{30}\selectfont] at (71.5pt,927.2pt) {residuals (ns)};
\node[rotate=90, anchor=base, inner sep=0pt, font=\bfseries\fontsize{30}{30}\selectfont] at (86.5pt,368.6pt) {Modified Allan Deviation (10\textsuperscript{-15})};
\node[rotate=90, anchor=base, inner sep=0pt, font=\bfseries\fontsize{30}{30}\selectfont] at (768.3pt,368.6pt) {Time deviation (10\textsuperscript{-10} s)};
\end{tikzpicture}
\end{document}
